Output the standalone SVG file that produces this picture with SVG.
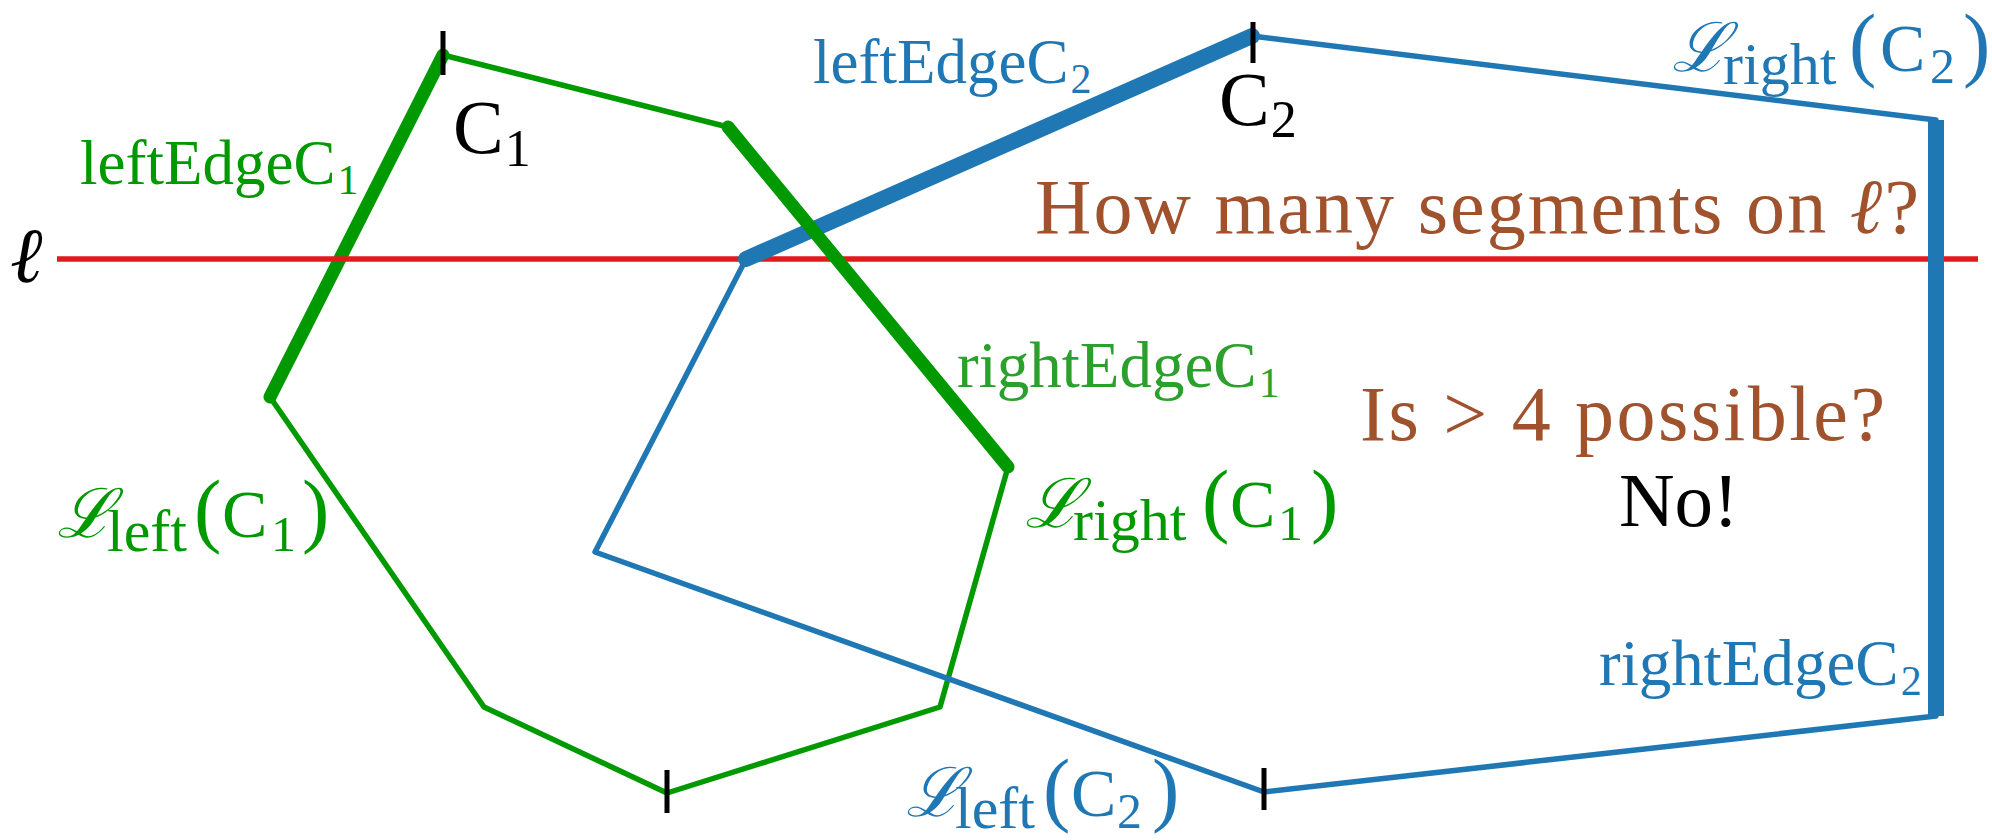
<svg xmlns="http://www.w3.org/2000/svg" width="1992" height="840" viewBox="0 0 1992 840">
<style>
.t{font-family:"Liberation Serif","DejaVu Serif",serif;}
.cal{font-family:"DejaVu Serif",serif;font-style:italic;font-size:68px;}
.sub{font-size:60px;}
.par{font-size:82px;}
.cc{font-size:68px;}
.dig{font-size:50px;}
.g{fill:#009900;}
.g2{fill:#2ca02c;}
.b{fill:#1f77b4;}
.k{fill:#000000;}
.br{fill:#a0522d;}
.thin{fill:none;stroke-width:5.5;stroke-linejoin:round;stroke-linecap:round;}
.thick{fill:none;stroke-linecap:round;}
.tick{stroke:#000;stroke-width:5;}
</style>
<rect width="1992" height="840" fill="#ffffff"/>
<g id="connectors">
  <polygon id="C1-poly" class="thin" stroke="#009900" points="443,55 728,127 1008,467 940,707 667,793 484,707 270,397"/>
  <polygon id="C2-poly" class="thin" stroke="#1f77b4" points="746,259 1252,36 1936,120 1936,716 1264,792 595,552"/>
  <line id="leftEdgeC1-line" class="thick" stroke="#009900" stroke-width="13" x1="443" y1="55" x2="270" y2="397"/>
  <line id="ell-line" x1="57" y1="259" x2="1978" y2="259" stroke="#e31a1c" stroke-width="5.5"/>
  <line id="leftEdgeC2-line" class="thick" stroke="#1f77b4" stroke-width="16" x1="746" y1="259" x2="1252" y2="36"/>
  <line id="rightEdgeC2-line" stroke="#1f77b4" stroke-width="16" x1="1936" y1="120" x2="1936" y2="716"/>
  <line id="rightEdgeC1-line" class="thick" stroke="#009900" stroke-width="13" x1="728" y1="127" x2="1008" y2="467"/>
  <line class="tick" x1="443" y1="31" x2="443" y2="75"/>
  <line class="tick" x1="667" y1="770" x2="667" y2="813"/>
  <line class="tick" x1="1253" y1="22" x2="1253" y2="63"/>
  <line class="tick" x1="1264" y1="768" x2="1264" y2="810"/>
</g>
<g id="ell"><text class="t k" x="10" y="282" font-size="78" font-style="italic">ℓ</text></g>
<g id="leftEdgeC1"><text class="t g" x="80" y="184" font-size="63">leftEdgeC<tspan dx="2" dy="10" font-size="42">1</tspan></text></g>
<g id="C1"><text class="t k" x="453" y="153" font-size="76">C<tspan dx="1" dy="13" font-size="52">1</tspan></text></g>
<g id="leftEdgeC2"><text class="t b" x="813" y="83" font-size="63">leftEdgeC<tspan dx="2" dy="10" font-size="42">2</tspan></text></g>
<g id="C2"><text class="t k" x="1219" y="125" font-size="76">C<tspan dx="1" dy="12" font-size="52">2</tspan></text></g>
<g id="Lright-C2"><text class="t b"><tspan class="cal" x="1672" y="71">ℒ</tspan><tspan class="sub" x="1723" y="84" font-size="63">right</tspan><tspan class="par" x="1849" y="71" font-size="74">(</tspan><tspan class="cc" x="1880" y="71">C</tspan><tspan class="dig" x="1930" y="83">2</tspan><tspan class="par" x="1963" y="71" font-size="74">)</tspan></text></g>
<g id="question1"><text class="t br" x="1035" y="233" font-size="78" textLength="884" lengthAdjust="spacing">How many segments on <tspan font-style="italic">ℓ</tspan>?</text></g>
<g id="rightEdgeC1"><text class="t g2" x="957" y="387" font-size="65">rightEdgeC<tspan dx="2" dy="10" font-size="42">1</tspan></text></g>
<g id="question2"><text class="t br" x="1360" y="440" font-size="78" textLength="525" lengthAdjust="spacing">Is &gt; 4 possible?</text></g>
<g id="answer"><text class="t k" x="1619" y="526" font-size="77">No!</text></g>
<g id="Lleft-C1"><text class="t g"><tspan class="cal" x="57" y="537">ℒ</tspan><tspan class="sub" x="107" y="551">left</tspan><tspan class="par" x="194" y="537">(</tspan><tspan class="cc" x="222" y="537">C</tspan><tspan class="dig" x="271" y="551">1</tspan><tspan class="par" x="302" y="537">)</tspan></text></g>
<g id="Lright-C1"><text class="t g"><tspan class="cal" x="1025" y="527">ℒ</tspan><tspan class="sub" x="1073" y="540" font-size="63">right</tspan><tspan class="par" x="1202" y="527">(</tspan><tspan class="cc" x="1230" y="527">C</tspan><tspan class="dig" x="1278" y="540">1</tspan><tspan class="par" x="1311" y="527">)</tspan></text></g>
<g id="rightEdgeC2"><text class="t b" x="1599" y="685" font-size="65">rightEdgeC<tspan dx="2" dy="10" font-size="42">2</tspan></text></g>
<g id="Lleft-C2"><text class="t b"><tspan class="cal" x="906" y="816">ℒ</tspan><tspan class="sub" x="955" y="828" font-size="58">left</tspan><tspan class="par" x="1043" y="816" font-size="80">(</tspan><tspan class="cc" x="1071" y="816">C</tspan><tspan class="dig" x="1117" y="828" font-size="48">2</tspan><tspan class="par" x="1152" y="816" font-size="80">)</tspan></text></g>
</svg>
